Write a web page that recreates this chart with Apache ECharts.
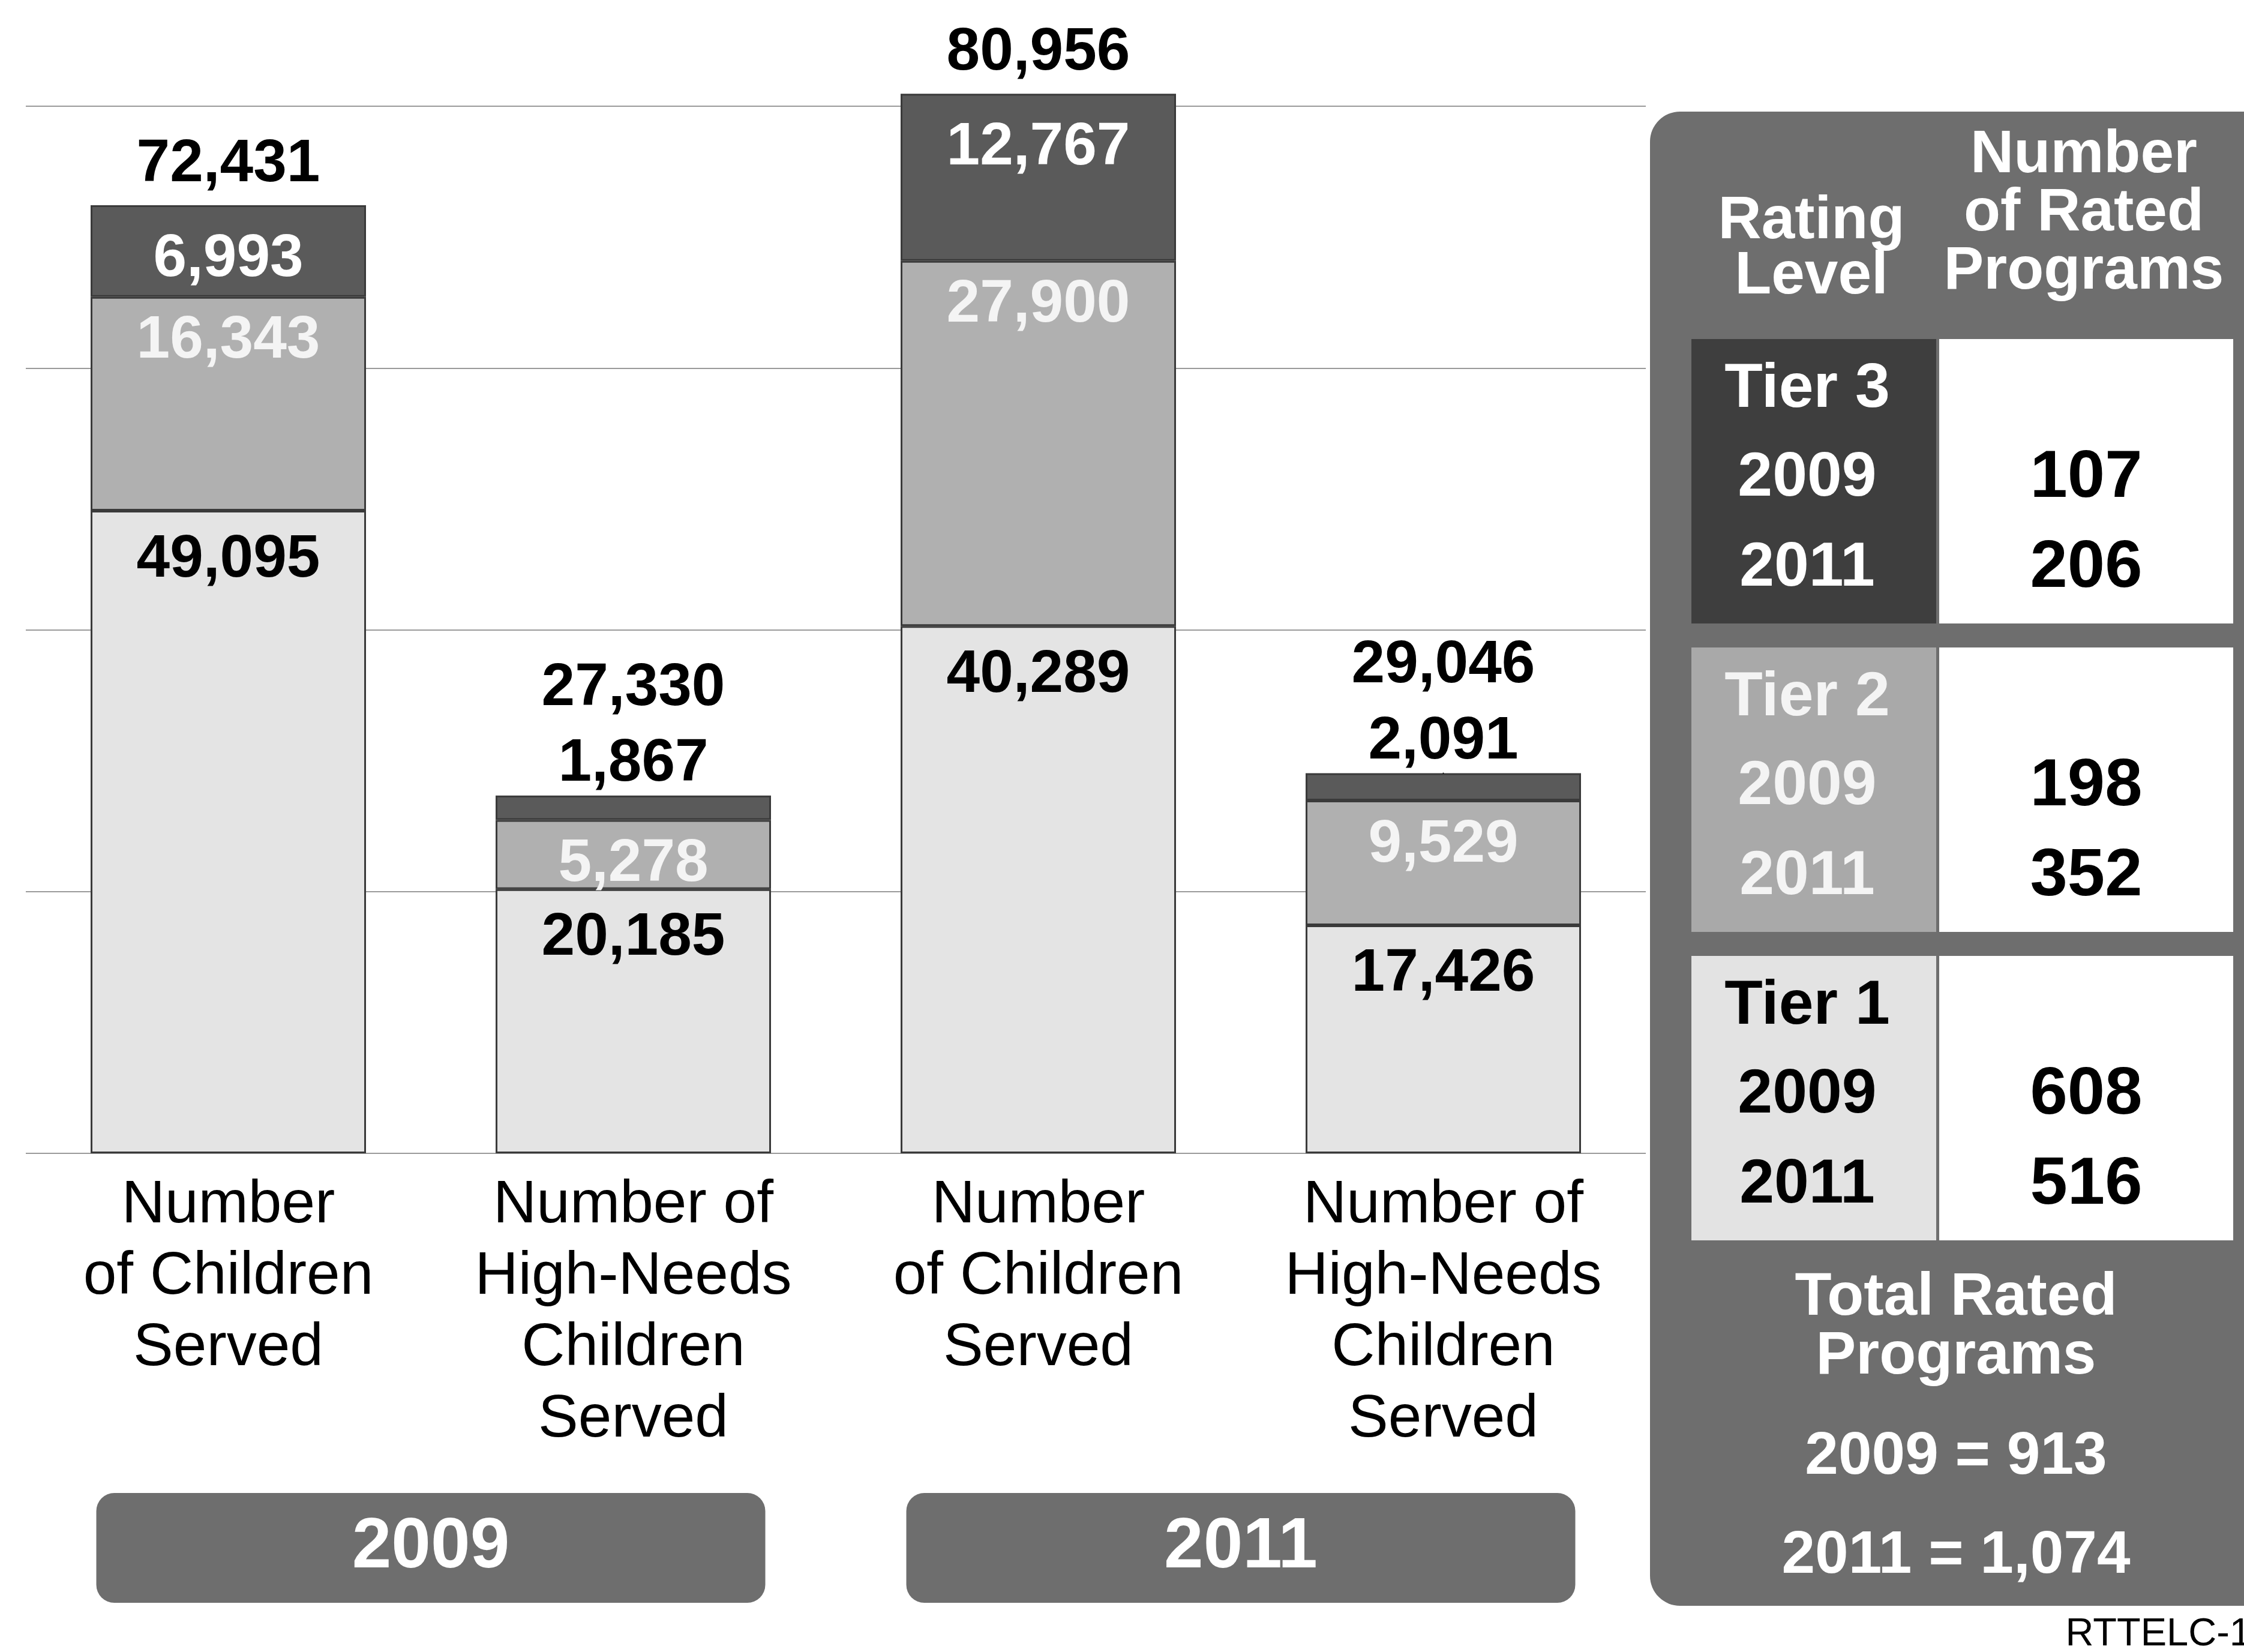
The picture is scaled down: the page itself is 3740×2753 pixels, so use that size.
<!DOCTYPE html>
<html>
<head>
<meta charset="utf-8">
<script src="https://cdn.jsdelivr.net/npm/echarts@6/dist/echarts.min.js"></script>
<style>
  html, body { margin: 0; padding: 0; background: #ffffff; }
  #chart { width: 3740px; height: 2753px; }
</style>
</head>
<body>
<div id="chart"></div>
<script>
// Children served by rating tier, 2009 and 2011
const categories = [
  'Number\nof Children\nServed',
  'Number of\nHigh-Needs\nChildren\nServed',
  'Number\nof Children\nServed',
  'Number of\nHigh-Needs\nChildren\nServed'
];
const yearGroups = ['2009', '2011'];
const tier1 = [49095, 20185, 40289, 17426];
const tier2 = [16343, 5278, 27900, 9529];
const tier3 = [6993, 1867, 12767, 2091];
const yTickMax = 80000;
const yTickStep = 20000;

// Rated programs table
const tierNames = ['Tier 3', 'Tier 2', 'Tier 1'];
const rated2009 = [107, 198, 608];
const rated2011 = [206, 352, 516];
const footnote = 'RTTELC-1';

const FONT = '"Liberation Sans", Arial, Helvetica, sans-serif';
const fmt = v => Number(v).toLocaleString('en-US');
const totals = tier1.map((v, i) => v + tier2[i] + tier3[i]);
const total2009 = rated2009.reduce((a, b) => a + b, 0);
const total2011 = rated2011.reduce((a, b) => a + b, 0);

// a segment too thin for its label gets the label above the bar instead
const SMALL_TOP = 5000;

const colors = {
  t1: '#e4e4e4', t2: '#b0b0b0', t3: '#5a5a5a',
  edge: '#3a3a3a', grid: '#9a9a9a', panel: '#6e6e6e'
};

const valueLabel = (color, position, distance) => ({
  show: true, position, distance, color,
  fontFamily: FONT, fontSize: 100, fontWeight: 'bold',
  formatter: p => fmt(p.value)
});

const barBase = {
  type: 'bar', stack: 'served', barWidth: '68%', clip: false,
  itemStyle: { borderColor: colors.edge, borderWidth: 3 }
};

// right-hand table graphics
function text(str, x, y, size, fill, weight, lineHeight, align) {
  return {
    type: 'text', x, y, z: 20,
    style: {
      text: str, fill, fontSize: size, fontWeight: weight || 'bold',
      fontFamily: FONT, align: align || 'center', verticalAlign: 'middle',
      lineHeight: lineHeight || size
    }
  };
}

const panel = [];
panel.push({
  type: 'rect', z: 10,
  shape: { x: 2750, y: 186, width: 1150, height: 2490, r: 50 },
  style: { fill: colors.panel }
});
panel.push(text('Rating\nLevel', 3019, 415, 100, '#ffffff', 'bold', 92));
panel.push(text('Number\nof Rated\nPrograms', 3473, 356, 100, '#ffffff', 'bold', 97));

const cellFill = ['#3e3e3e', '#a9a9a9', '#e3e3e3'];
const cellText = ['#ffffff', '#f4f4f4', '#000000'];
tierNames.forEach((name, i) => {
  const top = 565 + i * 514;
  panel.push({ type: 'rect', z: 12, shape: { x: 2819, y: top, width: 408, height: 474 },
    style: { fill: cellFill[i] } });
  panel.push({ type: 'rect', z: 12, shape: { x: 3232, y: top, width: 490, height: 474 },
    style: { fill: '#ffffff' } });
  panel.push(text(name, 3012, top + 84, 104, cellText[i]));
  panel.push(text('2009', 3012, top + 232, 104, cellText[i]));
  panel.push(text('2011', 3012, top + 382, 104, cellText[i]));
  panel.push(text(fmt(rated2009[i]), 3477, top + 232, 112, '#000000'));
  panel.push(text(fmt(rated2011[i]), 3477, top + 382, 112, '#000000'));
});
panel.push(text('Total Rated\nPrograms', 3260, 2212, 100, '#ffffff', 'bold', 98));
panel.push(text('2009 = ' + fmt(total2009), 3260, 2428, 100, '#ffffff'));
panel.push(text('2011 = ' + fmt(total2011), 3260, 2593, 100, '#ffffff'));
panel.push(text(footnote, 3752, 2724, 65, '#000000', 'normal', 65, 'right'));

const chart = echarts.init(document.getElementById('chart'), null, { renderer: 'canvas' });
chart.setOption({
  backgroundColor: '#ffffff',
  animation: false,
  textStyle: { fontFamily: FONT },
  grid: { left: 43, right: 997, top: 177, bottom: 831, outerBoundsMode: 'none', containLabel: false },
  xAxis: [
    {
      type: 'category', data: categories, position: 'bottom',
      axisLine: { show: false }, axisTick: { show: false },
      axisLabel: {
        interval: 0, margin: 28, color: '#000000',
        fontFamily: FONT, fontSize: 100, lineHeight: 119
      }
    },
    {
      type: 'category', data: yearGroups, position: 'bottom',
      axisLine: { show: false }, axisTick: { show: false }, splitLine: { show: false },
      axisLabel: {
        interval: 0, margin: 566, color: '#ffffff',
        fontFamily: FONT, fontSize: 118, fontWeight: 'bold',
        backgroundColor: colors.panel, borderRadius: 30,
        width: 1115, height: 183, lineHeight: 183, align: 'center'
      }
    }
  ],
  yAxis: {
    type: 'value', min: 0, max: yTickMax, interval: yTickStep,
    axisLine: { show: false }, axisTick: { show: false }, axisLabel: { show: false },
    splitLine: { show: true, lineStyle: { color: colors.grid, width: 2 } }
  },
  series: [
    Object.assign({}, barBase, {
      name: 'Tier 1', data: tier1,
      itemStyle: Object.assign({}, barBase.itemStyle, { color: colors.t1 }),
      label: valueLabel('#000000', 'insideTop', 32)
    }),
    Object.assign({}, barBase, {
      name: 'Tier 2', data: tier2,
      itemStyle: Object.assign({}, barBase.itemStyle, { color: colors.t2 }),
      label: valueLabel('#f4f4f4', 'insideTop', 24)
    }),
    Object.assign({}, barBase, {
      name: 'Tier 3',
      data: tier3.map(v => v < SMALL_TOP
        ? { value: v, label: { position: 'top', color: '#000000', distance: 2 } }
        : { value: v }),
      itemStyle: Object.assign({}, barBase.itemStyle, { color: colors.t3 }),
      label: valueLabel('#ffffff', 'insideTop', 40)
    }),
    {
      name: 'Total', type: 'scatter', symbolSize: 0, clip: false, z: 5,
      itemStyle: { opacity: 1, color: '#000000' },
      data: totals.map((v, i) => tier3[i] < SMALL_TOP
        ? { value: v, label: { offset: [0, -110] } }
        : { value: v }),
      label: valueLabel('#000000', 'top', 18)
    }
  ],
  graphic: panel
});
</script>
</body>
</html>
